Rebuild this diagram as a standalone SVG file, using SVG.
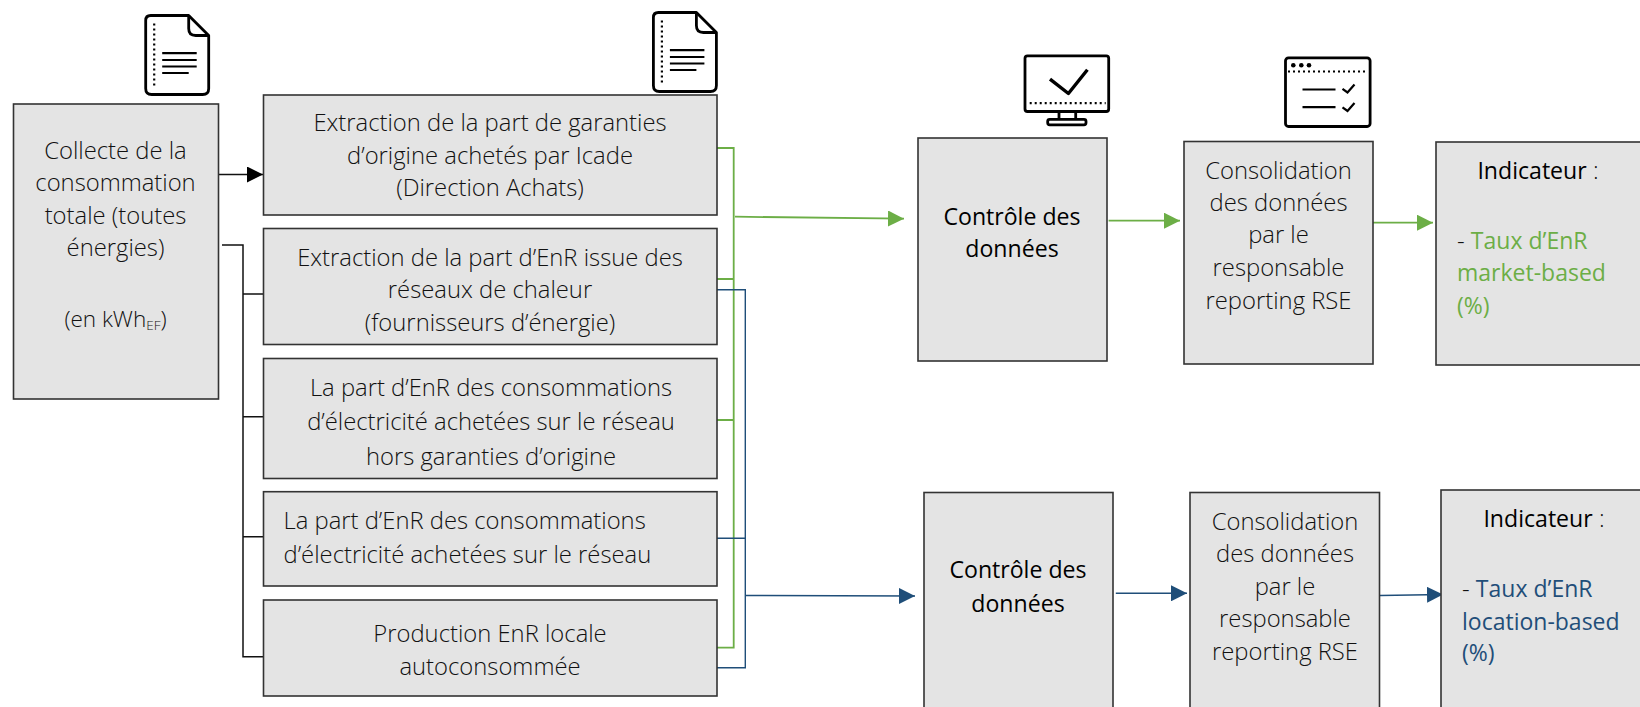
<svg xmlns="http://www.w3.org/2000/svg" width="1640" height="707" viewBox="0 0 1640 707">
<style>
.box{fill:#e4e4e4;stroke:#333;stroke-width:1.6}
text{font-family:"Open Sans","Noto Sans","Liberation Sans",sans-serif;font-size:23.800px;font-weight:300;fill:#111;transform:translateY(0.8px)}
.m{text-anchor:middle}
.r{font-weight:400;fill:#000;font-size:23.100px}
.g{fill:#6cae46;font-weight:400;font-size:23px}
.b{fill:#1f4e79;font-weight:400;font-size:23px}
.i{fill:none;stroke:#000;stroke-width:2.8;stroke-linejoin:round}
.d{fill:none;stroke:#000;stroke-width:2.2;stroke-dasharray:2 3}
.t{fill:none;stroke:#000;stroke-width:2.2}
.lk{fill:none;stroke:#111;stroke-width:1.5}
.lg{fill:none;stroke:#6cae46;stroke-width:1.8}
.lb{fill:none;stroke:#1f4e79;stroke-width:1.4}
</style>
<defs>
<marker id="ak" markerUnits="userSpaceOnUse" markerWidth="16" markerHeight="16" refX="16" refY="8" orient="auto"><path d="M0 0L16 8L0 16Z" fill="#000"/></marker>
<marker id="ag" markerUnits="userSpaceOnUse" markerWidth="16" markerHeight="16" refX="16" refY="8" orient="auto"><path d="M0 0L16 8L0 16Z" fill="#6cae46"/></marker>
<marker id="ab" markerUnits="userSpaceOnUse" markerWidth="16" markerHeight="16" refX="16" refY="8" orient="auto"><path d="M0 0L16 8L0 16Z" fill="#1f4e79"/></marker>
<g id="doc">
<path class="i" d="M150 15H188L208 35V88Q208 94 202 94H151Q145 94 145 88V20Q145 15 150 15Z"/>
<path class="i" d="M188 15V28Q188 35 195 35H208"/>
<path class="d" d="M153.500 23V87"/>
<path class="t" d="M161.500 52.700H196M161.500 59.500H196M161.500 66H196M161.500 72.500H188"/>
</g>
</defs>

<g id="connectors">
<path class="lk" marker-end="url(#ak)" d="M219 174.500H263"/>
<path class="lk" d="M222 245H243V656.700H263M243 294H263M243 416.700H264M243 536.700H263"/>
<path class="lg" d="M717 148H733.700V647.700H717M717 279H733.700M717 420H733.700"/>
<path class="lg" stroke-width="1.4" marker-end="url(#ag)" d="M735 216.700L904 218.700"/>
<path class="lb" d="M717 289.700H745.300V667.700H717M717 538.300H746"/>
<path class="lb" marker-end="url(#ab)" d="M745 595.500L915 596"/>
<path class="lg" marker-end="url(#ag)" d="M1108.600 220.700H1180"/>
<path class="lg" marker-end="url(#ag)" d="M1373 222.700H1433"/>
<path class="lb" marker-end="url(#ab)" d="M1115.800 593.300H1187"/>
<path class="lb" marker-end="url(#ab)" d="M1380 595.500L1443 594.500"/>
</g>

<g id="icon-doc-1"><use href="#doc" x="0.700" y="0.500"/></g>
<g id="icon-doc-2"><use href="#doc" x="508.400" y="-2.500"/></g>
<g id="icon-monitor" transform="translate(0.700 0.300)">
<rect class="i" x="1024.300" y="55.500" width="83.700" height="55.700" rx="2.500"/>
<path class="d" d="M1029 102.800H1105"/>
<path class="i" style="stroke-width:3.400" d="M1049.300 78.800L1067.700 93.200L1086.700 69.500"/>
<path class="i" d="M1058.300 111.200V119M1075 111.200V119"/>
<rect class="i" x="1047" y="119" width="38.300" height="5.500" rx="2"/>
</g>
<g id="icon-window">
<rect class="i" x="1285.500" y="57.800" width="84.600" height="68.700" rx="3"/>
<path class="d" d="M1288 71.500H1368"/>
<circle cx="1293.300" cy="65.200" r="2.300"/>
<circle cx="1301.300" cy="65.200" r="2.300"/>
<circle cx="1309" cy="65.200" r="2.300"/>
<path class="t" d="M1302.500 89.500H1335.500M1302.500 107.200H1335.500"/>
<path class="t" d="M1342.500 88.800L1347.500 92.500L1354.500 84.500M1342.500 107.300L1347.500 111L1354.500 103"/>
</g>

<g id="n-collecte">
<rect class="box" x="13.500" y="104" width="205" height="295"/>
<text class="m" x="115.500" y="158">Collecte de la</text>
<text class="m" x="115.500" y="190.700">consommation</text>
<text class="m" x="115.500" y="223">totale (toutes</text>
<text class="m" x="115.500" y="255">énergies)</text>
<text class="m" x="115.500" y="326" style="font-size:22.500px">(en kWh<tspan font-size="13.500" dy="3">EF</tspan><tspan dy="-3">)</tspan></text>
</g>
<g id="n-extraction-go">
<rect class="box" x="263.500" y="95" width="453.500" height="120"/>
<text class="m" x="490" y="130">Extraction de la part de garanties</text>
<text class="m" x="490" y="163">d’origine achetés par Icade</text>
<text class="m" x="490" y="195">(Direction Achats)</text>
</g>
<g id="n-extraction-rc">
<rect class="box" x="263.500" y="228.500" width="453.500" height="116"/>
<text class="m" x="490" y="265">Extraction de la part d’EnR issue des</text>
<text class="m" x="490" y="297.300">réseaux de chaleur</text>
<text class="m" x="490" y="330">(fournisseurs d’énergie)</text>
</g>
<g id="n-part-hors-go">
<rect class="box" x="263.500" y="358.500" width="453.500" height="120"/>
<text class="m" x="491" y="395">La part d’EnR des consommations</text>
<text class="m" x="491" y="429">d’électricité achetées sur le réseau</text>
<text class="m" x="491" y="464">hors garanties d’origine</text>
</g>
<g id="n-part-reseau">
<rect class="box" x="263.500" y="491.700" width="453.500" height="94.300"/>
<text x="283.500" y="528">La part d’EnR des consommations</text>
<text x="283.500" y="562.700">d’électricité achetées sur le réseau</text>
</g>
<g id="n-production">
<rect class="box" x="263.500" y="600" width="453.500" height="96"/>
<text class="m" x="490" y="641">Production EnR locale</text>
<text class="m" x="490" y="674">autoconsommée</text>
</g>

<g id="n-controle-1">
<rect class="box" x="918" y="138" width="189" height="223"/>
<text class="m r" x="1012" y="224">Contrôle des</text>
<text class="m r" x="1012" y="256">données</text>
</g>
<g id="n-conso-1">
<rect class="box" x="1184" y="141.500" width="189" height="222.500"/>
<text class="m" x="1278.500" y="178">Consolidation</text>
<text class="m" x="1278.500" y="210">des données</text>
<text class="m" x="1278.500" y="242.700">par le</text>
<text class="m" x="1278.500" y="275.700">responsable</text>
<text class="m" x="1278.500" y="308">reporting RSE</text>
</g>
<g id="n-indic-1">
<rect class="box" x="1436" y="142" width="210" height="223"/>
<text class="m" x="1538" y="178"><tspan class="r">Indicateur</tspan> :</text>
<text x="1457" y="248">- <tspan class="g">Taux d’EnR</tspan></text>
<text class="g" x="1457" y="280.700">market-based</text>
<text class="g" x="1457" y="313">(%)</text>
</g>
<g id="n-controle-2">
<rect class="box" x="924" y="492.500" width="189" height="224"/>
<text class="m r" x="1018" y="577.700">Contrôle des</text>
<text class="m r" x="1018" y="611">données</text>
</g>
<g id="n-conso-2">
<rect class="box" x="1190" y="492.500" width="189.500" height="224"/>
<text class="m" x="1285" y="529">Consolidation</text>
<text class="m" x="1285" y="561.700">des données</text>
<text class="m" x="1285" y="594">par le</text>
<text class="m" x="1285" y="626.700">responsable</text>
<text class="m" x="1285" y="659">reporting RSE</text>
</g>
<g id="n-indic-2">
<rect class="box" x="1441" y="490" width="210" height="226"/>
<text class="m" x="1544" y="526"><tspan class="r">Indicateur</tspan> :</text>
<text x="1462" y="596">- <tspan class="b">Taux d’EnR</tspan></text>
<text class="b" x="1462" y="629">location-based</text>
<text class="b" x="1462" y="660.700">(%)</text>
</g>
</svg>
